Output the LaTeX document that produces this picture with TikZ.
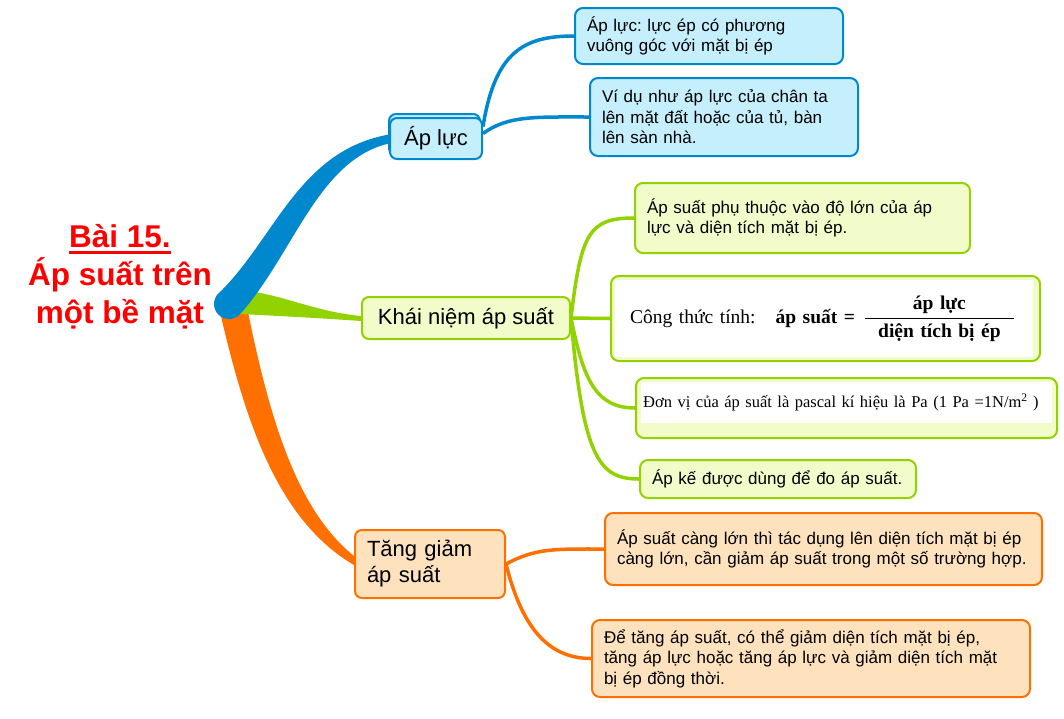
\documentclass[tikz,border=0pt]{standalone}
\usepackage{amsmath}
\usepackage{fontspec}
\setmainfont{Liberation Sans}
\newfontfamily\timesfont{Liberation Serif}
\usetikzlibrary{positioning,calc}
\definecolor{baired}{RGB}{255,0,0}
\definecolor{baiblue}{RGB}{0,136,206}
\definecolor{baibluefill}{RGB}{197,239,253}
\definecolor{baigreen}{RGB}{146,210,0}
\definecolor{baigreenfill}{RGB}{242,252,202}
\definecolor{baiorange}{RGB}{255,112,0}
\definecolor{baiorangefill}{RGB}{254,226,190}
\newcommand{\thickul}[1]{\leavevmode\vtop{\hbox{#1}\kern2.5pt\hrule height 3pt}}
\frenchspacing

\begin{document}
\begin{tikzpicture}[x=1pt, y=-1pt,
	% Node styles
	lessontitle/.style={
		font=\bfseries\fontsize{31.5}{38}\selectfont,
		text=baired,
		align=center
	},
	topic/.style={
		rectangle,
		rounded corners=7pt,
		draw=#1,
		fill=#1fill,
		line width=2pt,
		font=\fontsize{22}{26}\selectfont,
		inner xsep=12pt
	},
	leaf/.style={
		rectangle,
		rounded corners=8pt,
		draw=#1,
		fill=#1fill,
		line width=2pt,
		font=\fontsize{17}{20.5}\selectfont,
		align=left,
		inner xsep=12pt
	},
	whitepanel/.style={
		rectangle,
		fill=white,
		inner ysep=0pt,
		anchor=north west,
		align=left
	},
	twig/.style={
		draw=#1,
		line width=3.5pt
	}
	]
	
	% Page
	\fill[white] (0,0) rectangle (1064,718);
	
	% Title
	\node[lessontitle] (title) at (120,277) {\thickul{Bài 15.}\\Áp suất trên\\một bề mặt};
	\coordinate (root) at (229,304);
	
	% Áp lực
	\draw[baiblue, fill=baibluefill, line width=2pt, rounded corners=7pt] (389,114) rectangle (480,155);
	\node[topic=baiblue, minimum width=92pt, minimum height=41pt] (aplucnode) at (436,138.5) {Áp lực};
	\node[leaf=baiblue, text width=244pt, minimum height=56pt] (ap1) at (709,36) {Áp lực: lực ép có phương\\vuông góc với mặt bị ép};
	\node[leaf=baiblue, text width=244pt, minimum height=78pt] (ap2) at (724,117) {Ví dụ như áp lực của chân ta\\lên mặt đất hoặc của tủ, bàn\\lên sàn nhà.};
	
	% Khái niệm áp suất
	\node[topic=baigreen, minimum width=208pt, minimum height=42pt] (knode) at (466,318) {Khái niệm áp suất};
	\node[leaf=baigreen, text width=311pt, minimum height=70pt] (kn1) at (802.5,218) {Áp suất phụ thuộc vào độ lớn của áp\\lực và diện tích mặt bị ép.};
	\node[leaf=baigreen, minimum width=429pt, minimum height=85pt] (kn2) at (825.5,318.5) {};
	\node[whitepanel, font=\timesfont\fontsize{19.5}{23}\selectfont, inner xsep=15pt, text width=388pt, minimum height=77pt] (kn2txt) at (615,280)
		{Công thức tính:\hspace{20pt}\textbf{áp suất =}\hspace{9pt}$\dfrac{\text{\bfseries áp lực}}{\hspace{13pt}\text{\bfseries diện tích bị ép}\hspace{13pt}}$};
	\node[leaf=baigreen, minimum width=421pt, minimum height=60pt] (kn3) at (846.5,408) {};
	\node[whitepanel, font=\timesfont\fontsize{16.5}{20}\selectfont, inner xsep=2pt, text width=407pt, minimum height=41pt] (kn3txt) at (641,382)
		{Đơn vị của áp suất là pascal kí hiệu là Pa (1 Pa =1N/m\textsuperscript{2} )};
	\node[leaf=baigreen, text width=252pt, minimum height=38pt] (kn4) at (778,479) {Áp kế được dùng để đo áp suất.};
	
	% Tăng giảm áp suất
	\node[topic=baiorange, text width=126pt, minimum height=68pt, align=left] (tgnode) at (430,564) {Tăng giảm\\áp suất};
	\node[leaf=baiorange, text width=413pt, minimum height=72pt] (tg1) at (823.5,549) {Áp suất càng lớn thì tác dụng lên diện tích mặt bị ép\\càng lớn, cần giảm áp suất trong một số trường hợp.};
	\node[leaf=baiorange, text width=414pt, minimum height=77pt] (tg2) at (811,658.5) {Để tăng áp suất, có thể giảm diện tích mặt bị ép,\\tăng áp lực hoặc tăng áp lực và giảm diện tích mặt\\bị ép đồng thời.};
	
	% Main branches
	\fill[baiorange] ($(root)+(-9,8)$) .. controls +(25,108) and +(-77,-45) .. ($(tgnode.west)+(0,1)$)
		-- ($(tgnode.west)+(0,-8)$) .. controls +(-57,-46) and +(22,108) .. ($(root)+(19,8)$) -- cycle;
	\fill[baigreen] ($(root)+(26,-12)$) .. controls +(35,6) and +(-42,-4) .. ($(knode.west)+(0,-2)$)
		-- ($(knode.west)+(0,3)$) .. controls +(-42,-3) and +(40,2) .. ($(root)+(11,10)$) -- cycle;
	\fill[baiblue] ($(root)+(-9,-12)$) .. controls +(55,-54) and +(-90,16) .. ($(aplucnode.west)+(0,-4)$)
		-- ($(aplucnode.west)+(0,5)$) .. controls +(-70,16) and +(52,-60) .. ($(root)+(13,8)$) -- cycle;
	\fill[baiblue] (root) circle[radius=15];
	
	% Sub branches
	\draw[twig=baiblue] ($(aplucnode.east)+(0,-12)$) .. controls +(12,-75) and +(-50,0) .. (ap1.west);
	\draw[twig=baiblue] ($(aplucnode.east)+(0,-5)$) .. controls +(25,-18) and +(-55,0) .. (ap2.west);
	\draw[twig=baigreen] (knode.east) .. controls +(10,-85) and +(-45,0) .. (kn1.west);
	\draw[twig=baigreen] (knode.east) -- (kn2.west);
	\draw[twig=baigreen] (knode.east) .. controls +(12,60) and +(-40,0) .. (kn3.west);
	\draw[twig=baigreen] (knode.east) .. controls +(12,140) and +(-40,0) .. (kn4.west);
	\draw[twig=baiorange] (tgnode.east) .. controls +(30,-16) and +(-50,0) .. (tg1.west);
	\draw[twig=baiorange] (tgnode.east) .. controls +(15,60) and +(-45,0) .. (tg2.west);
	
\end{tikzpicture}
\end{document}
